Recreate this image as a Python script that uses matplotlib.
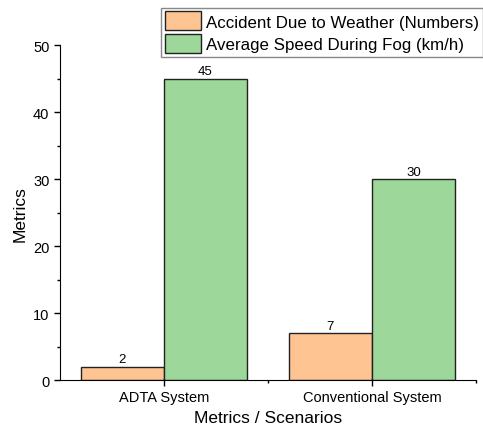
import matplotlib
matplotlib.use('Agg')
import matplotlib.pyplot as plt
import numpy as np
from matplotlib.ticker import MultipleLocator, FixedLocator

categories = ['ADTA System', 'Conventional System']
accidents = [2, 7]
avg_speed = [45, 30]
series_names = ['Accident Due to Weather (Numbers)', 'Average Speed During Fog (km/h)']

plt.rcParams['font.family'] = ['Liberation Sans', 'DejaVu Sans']

fig = plt.figure(figsize=(4.83, 4.35), dpi=100)
ax = fig.add_axes([0.124, 0.124, 0.8615, 0.770])

x = np.arange(1, len(categories) + 1)
w = 0.4
b1 = ax.bar(x - w / 2, accidents, w, color='#FEC593', edgecolor='#222222',
            linewidth=1.0, label=series_names[0])
b2 = ax.bar(x + w / 2, avg_speed, w, color='#9DD79A', edgecolor='#222222',
            linewidth=1.0, label=series_names[1])
for bars, vals in ((b1, accidents), (b2, avg_speed)):
    for bar, v in zip(bars, vals):
        ax.text(bar.get_x() + bar.get_width() / 2, v + 0.2, str(v),
                ha='center', va='bottom', fontsize=9.5)

ax.set_xlim(0.5, 2.5)
ax.set_ylim(0, 50)
ax.set_xticks(x)
ax.set_xticklabels(categories, fontsize=10.5)
ax.xaxis.set_minor_locator(FixedLocator([1.5, 2.5]))
ax.yaxis.set_major_locator(MultipleLocator(10))
ax.yaxis.set_minor_locator(MultipleLocator(5))
ax.tick_params(axis='y', labelsize=10.5, length=4, width=1)
ax.tick_params(axis='x', length=4, width=1)
ax.tick_params(which='minor', length=2.5, width=1)
for s in ('top', 'right'):
    ax.spines[s].set_visible(False)
ax.set_xlabel('Metrics / Scenarios', fontsize=12.5)
ax.set_ylabel('Metrics', fontsize=12.5)

leg = fig.legend(loc='upper left', bbox_to_anchor=(0.333, 0.98), fontsize=12.2,
                 frameon=True, fancybox=False, edgecolor='#888888', framealpha=1,
                 handlelength=2.15, handleheight=1.35, handletextpad=0.3,
                 borderpad=0.22, labelspacing=0.2, borderaxespad=0)

fig.savefig('out.png', dpi=100)
